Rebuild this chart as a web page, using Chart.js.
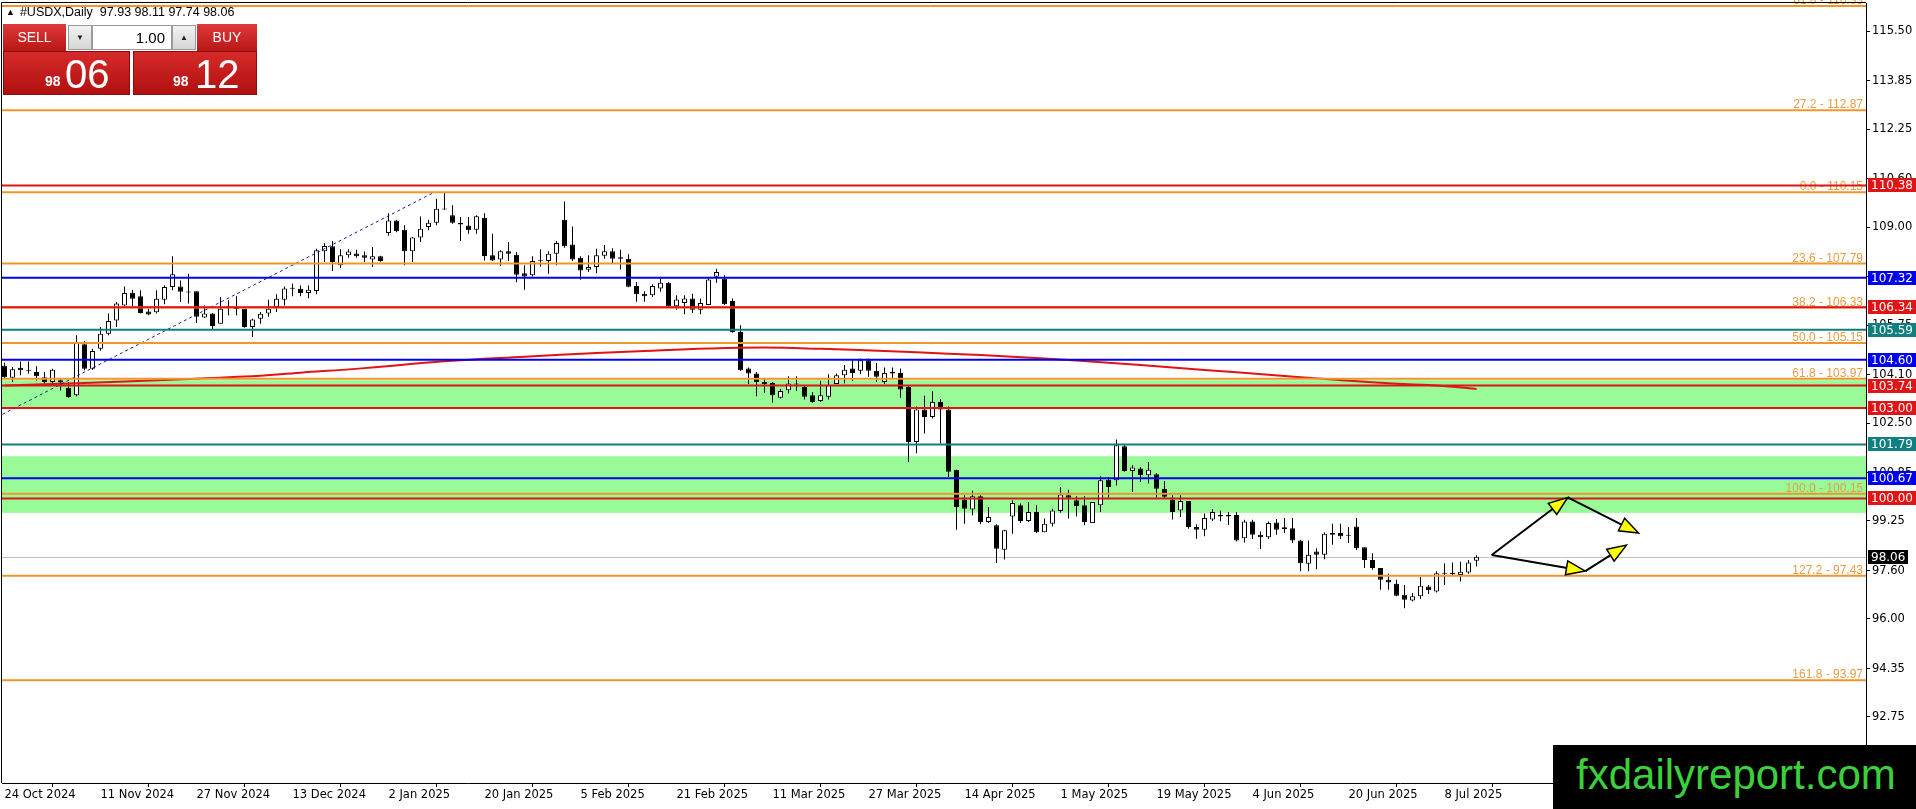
<!DOCTYPE html>
<html>
<head>
<meta charset="utf-8">
<script src="https://cdn.jsdelivr.net/npm/chart.js@4.4.1/dist/chart.umd.min.js"></script>
<style>
body { margin: 0; background: #fff; overflow: hidden; }
#wrap { position: relative; width: 1916px; height: 809px; }
#chart { position: absolute; left: 0; top: 0; }
.pn { position: absolute; box-sizing: border-box; font-family: 'Liberation Sans', Arial, sans-serif; }
#title { left: 6px; top: 5px; font-size: 12.5px; color: #000; white-space: pre; }
#title span { font-size: 9px; vertical-align: 1px; margin-right: 5px; }
.red { background: linear-gradient(#de3a3a, #b91616); color: #fff; }
.btn { top: 24px; height: 27px; font-size: 14px; text-align: center; line-height: 27px; }
#sellBtn { left: 3px; width: 63px; }
#buyBtn { left: 197px; width: 60px; }
.gray { top: 25px; height: 25px; width: 24px; background: linear-gradient(#f2f2f2, #d6d6d6); border: 1px solid #9a9a9a; font-size: 8px; text-align: center; line-height: 23px; color: #222; }
#down { left: 68px; }
#up { left: 172px; }
#lot { left: 92px; top: 25px; width: 80px; height: 25px; background: #fff; border: 1px solid #9a9a9a; font-size: 15px; text-align: right; padding-right: 6px; line-height: 23px; color: #000; }
.price { top: 51px; height: 44px; background: linear-gradient(#d62a2a, #b01010); color: #fff; border: 1px solid #8a0c0c; }
#sellPx { left: 3px; width: 127px; }
#buyPx { left: 133px; width: 124px; }
.small { position: absolute; bottom: 5px; font-size: 14px; font-weight: bold; }
.big { position: absolute; bottom: 0px; font-size: 40px; line-height: 40px; }
#brand { left: 1553px; top: 745px; width: 363px; height: 64px; background: #000; color: #3ad13a; font-size: 42px; line-height: 60px; padding-left: 23px; }
</style>
</head>
<body>
<div id="wrap">
<canvas id="chart" width="1916" height="809"></canvas>
<div class="pn" id="title"><span>▲</span>#USDX,Daily  97.93 98.11 97.74 98.06</div>
<div class="pn red btn" id="sellBtn">SELL</div>
<div class="pn gray" id="down">▼</div>
<div class="pn" id="lot">1.00</div>
<div class="pn gray" id="up">▲</div>
<div class="pn red btn" id="buyBtn">BUY</div>
<div class="pn price" id="sellPx"><span class="small" style="left:41px">98</span><span class="big" style="left:61px">06</span></div>
<div class="pn price" id="buyPx"><span class="small" style="left:39px">98</span><span class="big" style="left:61px">12</span></div>
<div class="pn" id="brand">fxdailyreport.com</div>
</div>
<script>
// daily candles, 24 Oct 2024 .. 14 Jul 2025
const opens = [104.40,104.00,104.33,104.25,104.19,104.02,103.86,103.92,103.67,103.42,105.11,104.30,104.96,105.46,105.90,106.40,106.82,106.70,106.20,106.17,
  106.59,107.01,107.03,106.85,106.87,106.00,106.13,105.79,106.34,106.30,106.29,105.68,105.96,106.13,106.35,106.59,106.95,106.95,106.81,106.88,
  108.20,108.36,107.73,108.06,108.12,108.06,107.92,108.03,108.80,109.22,108.91,108.20,108.65,109.00,109.14,109.61,109.39,109.14,109.05,108.91,
  109.31,108.06,107.92,108.20,108.08,107.47,107.40,107.88,107.87,108.11,109.24,108.42,107.98,107.58,107.67,108.05,108.20,108.00,107.95,107.04,
  106.79,106.74,106.96,107.15,106.37,106.48,106.63,106.26,106.41,107.35,107.29,106.55,105.52,104.31,104.14,103.79,103.83,103.34,103.59,103.81,
  103.70,103.42,103.23,103.37,103.79,104.08,104.31,104.23,104.58,104.23,103.86,104.19,104.16,103.70,101.87,102.95,102.70,103.20,102.95,100.95,
  99.96,99.63,100.07,99.22,99.11,98.30,99.40,99.77,99.25,99.55,98.88,99.16,99.58,100.10,99.94,99.77,99.18,99.77,100.62,100.60,
  101.73,100.91,100.99,100.77,100.80,100.32,99.96,99.60,99.91,99.05,98.96,99.30,99.45,99.40,99.45,98.68,99.23,98.79,98.71,99.20,
  99.04,99.01,98.60,97.83,98.24,98.13,98.79,98.85,98.79,99.07,98.38,97.96,97.69,97.30,97.17,96.80,96.61,96.75,97.08,96.91,
  97.52,97.50,97.46,97.54,97.93]
const highs = [104.50,104.36,104.54,104.54,104.38,104.19,104.30,103.97,103.86,105.41,105.21,104.96,105.68,106.13,106.51,107.03,106.92,106.90,106.29,106.90,
  107.07,108.03,107.23,107.45,106.87,106.40,106.15,106.68,106.57,106.70,106.29,105.96,106.18,106.59,106.77,107.03,107.12,107.06,107.06,108.28,
  108.47,108.54,108.26,108.26,108.25,108.19,108.34,108.05,109.46,109.24,109.06,108.67,109.35,109.24,109.94,110.13,109.72,109.33,109.33,109.39,
  109.46,108.78,108.23,108.50,108.17,107.73,108.03,108.26,108.20,108.54,109.85,109.02,108.03,108.06,108.28,108.40,108.30,108.25,108.10,107.18,
  106.87,107.10,107.29,107.18,106.74,106.74,106.79,106.63,107.29,107.62,107.40,106.63,105.74,104.34,104.19,103.97,103.86,103.64,104.05,104.05,
  103.72,103.53,103.90,104.12,104.14,104.42,104.58,104.64,104.64,104.49,104.34,104.34,104.31,103.72,103.05,103.40,103.55,103.30,103.05,100.95,
  100.10,100.25,100.10,99.71,99.14,98.96,99.94,99.83,99.88,99.77,99.33,99.66,100.38,100.29,100.07,100.07,99.88,100.73,100.71,101.95,
  101.79,101.10,101.04,101.21,100.84,100.58,100.10,100.10,99.91,99.14,99.50,99.65,99.60,99.55,99.55,99.29,99.29,98.90,99.23,99.32,
  99.35,99.35,98.63,98.60,98.35,98.87,99.16,99.16,99.05,99.35,98.38,98.18,97.69,97.50,97.30,97.13,96.86,97.39,97.13,97.58,
  97.85,97.87,97.90,97.96,98.11]
const lows = [103.98,103.86,104.08,104.13,103.91,103.75,103.75,103.58,103.34,103.38,104.25,104.27,104.90,105.41,105.68,106.37,106.37,106.13,106.07,106.13,
  106.44,106.90,106.51,106.46,105.82,105.99,105.61,105.79,106.07,106.07,105.66,105.35,105.79,106.02,106.18,106.40,106.70,106.70,106.64,106.77,
  107.84,107.54,107.64,107.98,107.98,107.84,107.67,107.85,108.71,108.83,107.73,107.84,108.50,108.89,109.06,109.57,109.11,108.54,108.78,108.78,
  107.89,107.87,107.71,107.87,107.17,106.92,107.36,107.69,107.45,107.73,108.31,107.87,107.25,107.51,107.47,107.95,107.77,107.59,107.00,106.52,
  106.52,106.68,106.85,106.35,106.26,106.11,106.15,106.11,106.41,107.15,106.41,105.49,104.23,103.79,103.39,103.50,103.17,103.31,103.48,103.56,
  103.28,103.17,103.20,103.28,103.79,103.81,103.90,104.12,104.03,103.86,103.79,103.97,103.34,101.21,101.50,102.15,102.65,101.82,100.71,98.96,
  99.16,99.44,99.14,99.18,97.86,97.97,98.83,99.18,99.22,98.85,98.88,99.07,99.52,99.33,99.40,99.11,99.18,99.55,100.02,100.43,
  100.88,100.21,100.54,100.49,100.02,99.99,99.30,99.38,98.99,98.66,98.74,99.25,99.24,99.12,98.57,98.54,98.65,98.32,98.65,98.79,
  98.85,98.52,97.58,97.58,97.65,97.98,98.46,98.65,98.52,98.29,97.69,97.63,96.97,96.97,96.75,96.36,96.58,96.66,96.83,96.88,
  97.13,97.43,97.24,97.50,97.74]
const closes = [104.02,104.28,104.25,104.22,104.05,103.86,104.27,103.84,103.36,105.15,104.30,104.89,105.46,105.88,106.46,106.81,106.62,106.15,106.10,106.62,
  107.01,107.43,106.85,106.83,106.02,106.13,105.72,106.29,106.36,106.28,105.68,105.93,106.12,106.29,106.62,106.96,106.97,106.81,106.92,108.23,
  108.37,107.84,108.06,108.19,108.03,107.98,108.03,107.87,109.22,108.86,108.20,108.65,108.94,109.14,109.61,109.58,109.14,109.08,108.89,109.36,
  108.04,107.89,108.20,108.11,107.42,107.36,107.87,107.91,108.11,108.47,108.36,107.92,107.56,107.67,108.06,108.20,107.95,107.95,107.02,106.77,
  106.70,107.04,107.15,106.37,106.60,106.63,106.26,106.48,107.26,107.51,106.44,105.52,104.25,104.14,103.86,103.86,103.42,103.56,103.81,103.78,
  103.37,103.20,103.42,103.75,104.08,104.27,104.16,104.58,104.23,104.03,104.16,104.14,103.61,101.87,102.95,102.70,103.20,102.95,100.88,99.71,
  99.66,100.07,99.22,99.38,98.33,98.94,99.85,99.25,99.55,98.88,99.16,99.60,100.13,100.02,99.74,99.22,99.88,100.60,100.38,101.76,
  100.91,101.02,100.77,100.95,100.32,100.05,99.55,99.91,99.05,98.96,99.35,99.55,99.40,99.45,98.60,99.23,98.79,98.71,99.18,98.96,
  98.98,98.60,97.85,98.13,98.13,98.83,98.85,98.74,98.76,98.35,97.96,97.69,97.30,97.21,96.77,96.64,96.75,97.10,96.95,97.52,
  97.50,97.49,97.57,97.87,98.06]

const dateLabels = ['24 Oct 2024', '11 Nov 2024', '27 Nov 2024', '13 Dec 2024', '2 Jan 2025', '20 Jan 2025', '5 Feb 2025', '21 Feb 2025',
  '11 Mar 2025', '27 Mar 2025', '14 Apr 2025', '1 May 2025', '19 May 2025', '4 Jun 2025', '20 Jun 2025', '8 Jul 2025']
const dateBars = [0, 12, 24, 36, 48, 60, 72, 84, 96, 108, 120, 132, 144, 156, 168, 180]
const yTickValues = [115.50, 113.85, 112.25, 110.60, 109.00, 107.35, 105.75, 104.10, 102.50, 100.85, 99.25, 97.60, 96.00, 94.35, 92.75, 91.10]

// moving average
const maBars = [0, 10, 20, 30, 37, 45, 55, 65, 74, 80, 88, 95, 102, 110, 118, 126, 134, 142, 150, 158, 166, 174, 178, 181, 184]
const maValues = [103.74, 103.83, 103.93, 104.04, 104.17, 104.32, 104.55, 104.70, 104.82, 104.89, 104.97, 105.00, 104.96, 104.89, 104.80, 104.70,
  104.57, 104.42, 104.26, 104.10, 103.94, 103.80, 103.76, 103.70, 103.63]

// fibonacci
const fibValues = [116.33, 112.87, 110.15, 107.79, 106.33, 105.15, 103.97, 100.15, 97.43, 93.97]
const fibNames = ['61.8', '27.2', '0.0', '23.6', '38.2', '50.0', '61.8', '100.0', '127.2', '161.8']
const fibLineBars = [-19.6, 53.7]
const fibLinePrices = [100.15, 110.15]

const zoneTops = [103.92, 101.40]
const zoneBottoms = [102.96, 99.52]
const redLevels = [110.38, 106.34, 103.74, 103.00, 100.00]
const blueLevels = [107.32, 104.60, 100.67]
const tealLevels = [105.59, 101.79]
const lastPrice = 98.06

const arrowFromBar = [185.9, 195.4, 185.9, 197.6]
const arrowFromPrice = [98.12, 100.03, 98.12, 97.59]
const arrowToBar = [195.4, 204.25, 197.6, 202.75]
const arrowToPrice = [100.03, 98.85, 97.59, 98.45]

const wickData = opens.map((o, i) => ({ x: i, y: [lows[i], highs[i]] }))
const bodyData = opens.map((o, i) => ({ x: i, y: [o, closes[i]] }))
const bodyColors = opens.map((o, i) => closes[i] >= o ? '#ffffff' : '#000000')
const maData = maBars.map((b, i) => ({ x: b, y: maValues[i] }))
const fibLine = fibLineBars.map((b, i) => ({ x: b, y: fibLinePrices[i] }))

const RED = '#e01414', BLUE = '#0000f0', TEAL = '#0f7f7f', FIB = '#ef962c'

function drawArrow(ctx, x1, y1, x2, y2) {
  const ang = Math.atan2(y2 - y1, x2 - x1)
  const len = 19, half = 7
  const c = Math.cos(ang), s = Math.sin(ang)
  ctx.strokeStyle = '#000'
  ctx.lineWidth = 2
  ctx.beginPath()
  ctx.moveTo(x1, y1)
  ctx.lineTo(x2 - c * len * 0.5, y2 - s * len * 0.5)
  ctx.stroke()
  const bx = x2 - c * len, by = y2 - s * len
  ctx.beginPath()
  ctx.moveTo(x2, y2)
  ctx.lineTo(bx - s * half, by + c * half)
  ctx.lineTo(bx + s * half, by - c * half)
  ctx.closePath()
  ctx.fillStyle = '#ffff00'
  ctx.fill()
  ctx.lineWidth = 1.5
  ctx.stroke()
}

const overlay = {
  id: 'overlay',
  beforeDatasetsDraw(chart) {
    const { ctx, chartArea: a, scales: { y } } = chart
    ctx.save()
    ctx.fillStyle = '#98fb98'
    zoneTops.forEach((t, i) => {
      const y1 = y.getPixelForValue(t), y2 = y.getPixelForValue(zoneBottoms[i])
      ctx.fillRect(a.left, y1, a.right - a.left, y2 - y1)
    })
    ctx.strokeStyle = '#c0c0c0'
    ctx.lineWidth = 1
    const py = Math.round(y.getPixelForValue(lastPrice)) + 0.5
    ctx.beginPath()
    ctx.moveTo(a.left, py)
    ctx.lineTo(a.right, py)
    ctx.stroke()
    ctx.restore()
  },
  afterDatasetsDraw(chart) {
    const { ctx, chartArea: a, scales: { x, y } } = chart
    ctx.save()
    const hline = (v, color) => {
      const py = y.getPixelForValue(v)
      ctx.strokeStyle = color
      ctx.lineWidth = 2
      ctx.beginPath()
      ctx.moveTo(a.left, py)
      ctx.lineTo(a.right, py)
      ctx.stroke()
    }
    fibValues.forEach(v => hline(v, FIB))
    ctx.font = '12px "Liberation Sans", Arial, sans-serif'
    ctx.fillStyle = '#e99d45'
    ctx.textAlign = 'right'
    ctx.textBaseline = 'alphabetic'
    fibValues.forEach((v, i) => {
      ctx.fillText(fibNames[i] + ' - ' + v.toFixed(2), a.right - 3, y.getPixelForValue(v) - 2)
    })
    redLevels.forEach(v => hline(v, RED))
    blueLevels.forEach(v => hline(v, BLUE))
    tealLevels.forEach(v => hline(v, TEAL))
    arrowFromBar.forEach((b, i) => {
      drawArrow(ctx, x.getPixelForValue(b), y.getPixelForValue(arrowFromPrice[i]),
        x.getPixelForValue(arrowToBar[i]), y.getPixelForValue(arrowToPrice[i]))
    })
    ctx.restore()
  },
  afterDraw(chart) {
    const { ctx, chartArea: a, scales: { y } } = chart
    ctx.save()
    ctx.strokeStyle = '#000'
    ctx.lineWidth = 1
    ctx.beginPath()
    ctx.moveTo(a.left - 0.5, a.bottom)
    ctx.lineTo(a.left - 0.5, a.top - 0.5)
    ctx.lineTo(a.right, a.top - 0.5)
    ctx.stroke()
    ctx.font = '12px "DejaVu Sans", sans-serif'
    ctx.textBaseline = 'middle'
    ctx.textAlign = 'left'
    const box = (v, color, w) => {
      const py = Math.round(y.getPixelForValue(v))
      ctx.fillStyle = color
      ctx.fillRect(a.right + 2, py - 7, w, 14)
      ctx.fillStyle = '#fff'
      ctx.fillText(v.toFixed(2), a.right + 5, py + 1)
    }
    redLevels.forEach(v => box(v, RED, 50))
    blueLevels.forEach(v => box(v, BLUE, 50))
    tealLevels.forEach(v => box(v, TEAL, 50))
    box(lastPrice, '#000', 40)
    ctx.restore()
  }
}

const axisFont = { family: 'DejaVu Sans', size: 11.5 }

new Chart(document.getElementById('chart'), {
  type: 'bar',
  data: {
    datasets: [
      { type: 'line', data: fibLine, borderColor: '#1c1ca8', borderWidth: 1, borderDash: [3, 3], pointRadius: 0, order: 0 },
      { type: 'line', data: maData, borderColor: '#e01414', borderWidth: 2, pointRadius: 0, tension: 0.4, order: 1 },
      { data: bodyData, backgroundColor: bodyColors, borderColor: '#000', borderWidth: 1, borderSkipped: false,
        barThickness: 5, grouped: false, minBarLength: 1, inflateAmount: 0, order: 2 },
      { data: wickData, backgroundColor: '#000', borderWidth: 0, barThickness: 1, grouped: false, inflateAmount: 0, order: 3 }
    ]
  },
  options: {
    responsive: false,
    animation: false,
    devicePixelRatio: 1,
    layout: { padding: { left: 2, top: 3, right: 0, bottom: 0 } },
    plugins: { legend: { display: false }, tooltip: { enabled: false } },
    scales: {
      x: {
        type: 'linear', min: -0.3125, max: 232.6875, offset: false, bounds: 'data',
        grid: { drawOnChartArea: false, tickLength: 4, color: '#000' },
        border: { color: '#000' },
        ticks: { autoSkip: false, maxRotation: 0, align: 'start', color: '#000', font: axisFont, padding: 1,
          callback: (v, i) => dateLabels[i] },
        afterBuildTicks: s => { s.ticks = dateBars.map(v => ({ value: v })) },
        afterFit: s => { s.height = 26; s.paddingLeft = 0; s.paddingRight = 0 }
      },
      y: {
        type: 'linear', position: 'right', min: 90.56, max: 116.43, bounds: 'data',
        grid: { drawOnChartArea: false, tickLength: 4, color: '#000' },
        border: { color: '#000' },
        ticks: { color: '#000', font: axisFont, padding: 2, callback: v => v.toFixed(2) },
        afterBuildTicks: s => { s.ticks = yTickValues.map(v => ({ value: v })) },
        afterFit: s => { s.width = 50; s.paddingTop = 0; s.paddingBottom = 0 }
      }
    }
  },
  plugins: [overlay]
})
</script>
</body>
</html>
